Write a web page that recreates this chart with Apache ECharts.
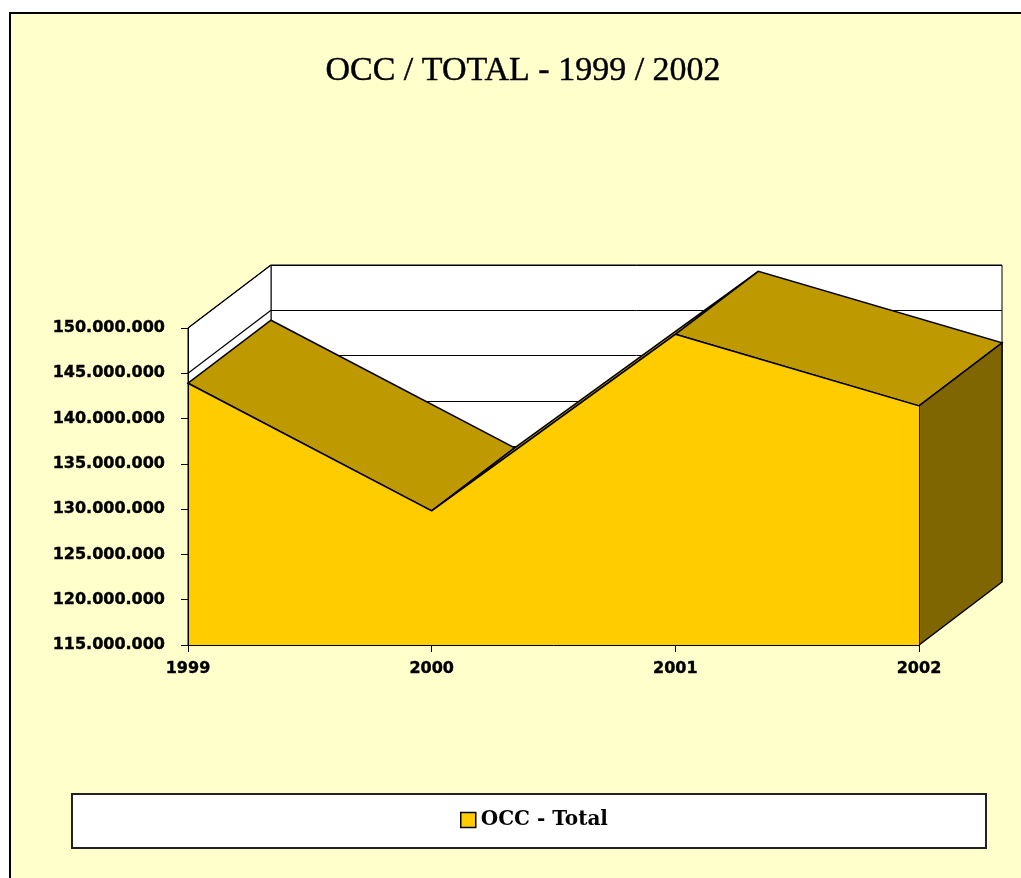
<!DOCTYPE html>
<html><head><meta charset="utf-8">
<style>html,body{margin:0;padding:0;background:#fff}#c{width:1021px;height:878px}</style>
<script src="https://cdn.jsdelivr.net/npm/echarts@6/dist/echarts.min.js"></script>
</head><body><div id="c"></div>
<script>
const categories = ['1999', '2000', '2001', '2002'];
const occTotal = [143900000, 129800000, 149300000, 141400000];
const tickValues = [115000000, 120000000, 125000000, 130000000, 135000000, 140000000, 145000000, 150000000];
const seriesName = 'OCC - Total';
const titleText = 'OCC / TOTAL - 1999 / 2002';

const DX = 83, DY = -63;
const back = p => [p[0] + DX, p[1] + DY];
const edge = { stroke: '#000', lineWidth: 1.2 };
const fmt = v => String(v).replace(/\B(?=(\d{3})+$)/g, '.');
const labelFont = { fontFamily: 'DejaVu Sans', fontWeight: 'bold', fontSize: 16, color: '#000', textBorderColor: '#000', textBorderWidth: 0.4 };
const indexed = occTotal.map((v, i) => [i, v]);

const chart = echarts.init(document.getElementById('c'), null, { renderer: 'canvas' });
chart.setOption({
  animation: false,
  backgroundColor: '#fff',
  title: {
    text: titleText, left: 518, top: 49, textAlign: 'center',
    textStyle: { fontFamily: 'Liberation Serif', fontWeight: 'normal', fontSize: 34, color: '#000', textBorderColor: '#000', textBorderWidth: 0.4 }
  },
  legend: {
    data: [{ name: seriesName, icon: 'rect' }], left: 460, top: 810, padding: 0,
    itemWidth: 15, itemHeight: 15,
    itemStyle: { color: '#FFCC00', borderColor: '#000', borderWidth: 1.5 },
    lineStyle: { width: 0 },
    selectedMode: false,
    textStyle: { fontFamily: 'DejaVu Serif', fontWeight: 'bold', fontSize: 20, color: '#000' }
  },
  graphic: [
    { type: 'rect', z: -10, shape: { x: 10, y: 13, width: 1100, height: 1000 }, style: { fill: '#FFFFCC', stroke: '#000', lineWidth: 2 } },
    { type: 'rect', z: -9, shape: { x: 72, y: 794, width: 914, height: 54 }, style: { fill: '#fff', stroke: '#222', lineWidth: 2 } }
  ],
  grid: [
    { left: 188, top: 328, width: 731, height: 317, containLabel: false },
    { left: 271, top: 265, width: 731, height: 317, show: true, backgroundColor: '#fff', borderColor: '#000', borderWidth: 1 }
  ],
  xAxis: [
    { type: 'category', gridIndex: 0, data: categories, boundaryGap: false, z: 6,
      axisLine: { lineStyle: { color: '#000', width: 1 } },
      axisTick: { show: true, length: 7, lineStyle: { color: '#000', width: 1 } },
      axisLabel: Object.assign({ margin: 16, showMinLabel: true, showMaxLabel: true, interval: 0 }, labelFont),
      splitLine: { show: false } },
    { type: 'category', gridIndex: 1, data: categories, boundaryGap: false, show: false }
  ],
  yAxis: [
    { type: 'value', gridIndex: 0, min: 115000000, max: 150000000, interval: 5000000, z: 6,
      axisLine: { show: true, onZero: false, lineStyle: { color: '#000', width: 1 } },
      axisTick: { show: true, length: 7, lineStyle: { color: '#000', width: 1 } },
      axisLabel: Object.assign({ margin: 23, formatter: fmt, padding: [2, 0, 0, 0] }, labelFont),
      splitLine: { show: false } },
    { type: 'value', gridIndex: 1, min: 115000000, max: 150000000, interval: 5000000,
      axisLine: { show: false }, axisTick: { show: false }, axisLabel: { show: false },
      splitLine: { show: true, lineStyle: { color: '#000', width: 1 } } }
  ],
  series: [
    { name: 'sideWall', type: 'custom', xAxisIndex: 0, yAxisIndex: 0, z: 1, silent: true, clip: false,
      data: tickValues.map(v => [0, v]), encode: { x: 0, y: 1 },
      renderItem(params, api) {
        const p = api.coord([0, api.value(1)]);
        const children = [{ type: 'line', shape: { x1: p[0], y1: p[1], x2: p[0] + DX, y2: p[1] + DY }, style: edge }];
        if (params.dataIndex === 0) {
          const a = api.coord([0, tickValues[0]]), b = api.coord([0, tickValues[tickValues.length - 1]]);
          children.unshift({ type: 'polygon', shape: { points: [a, b, back(b), back(a)] }, style: { fill: '#fff', stroke: '#000', lineWidth: 1 }, z2: -1 });
        }
        return { type: 'group', children };
      } },
    { name: 'topFaces', type: 'custom', xAxisIndex: 0, yAxisIndex: 0, z: 2, silent: true, clip: false,
      data: indexed, encode: { x: 0, y: 1 },
      renderItem(params, api) {
        const i = api.value(0);
        if (i >= occTotal.length - 1) return null;
        const a = api.coord([i, api.value(1)]), b = api.coord([i + 1, occTotal[i + 1]]);
        return { type: 'polygon', shape: { points: [a, b, back(b), back(a)] }, style: { fill: '#BF9900', stroke: '#000', lineWidth: 1.5 } };
      } },
    { name: 'endFace', type: 'custom', xAxisIndex: 0, yAxisIndex: 0, z: 2, silent: true, clip: false,
      data: [indexed[indexed.length - 1]], encode: { x: 0, y: 1 },
      renderItem(params, api) {
        const i = api.value(0);
        const a = api.coord([i, api.value(1)]), b = api.coord([i, tickValues[0]]);
        return { type: 'polygon', shape: { points: [a, b, back(b), back(a)] }, style: { fill: '#7F6600', stroke: '#000', lineWidth: 1.5 } };
      } },
    { name: seriesName, type: 'line', xAxisIndex: 0, yAxisIndex: 0, z: 3, data: occTotal, silent: true,
      showSymbol: false, symbol: 'none', smooth: false, clip: false,
      itemStyle: { color: '#FFCC00' },
      lineStyle: { color: '#000', width: 1.5 },
      areaStyle: { color: '#FFCC00', opacity: 1 } }
  ]
});
</script></body></html>
